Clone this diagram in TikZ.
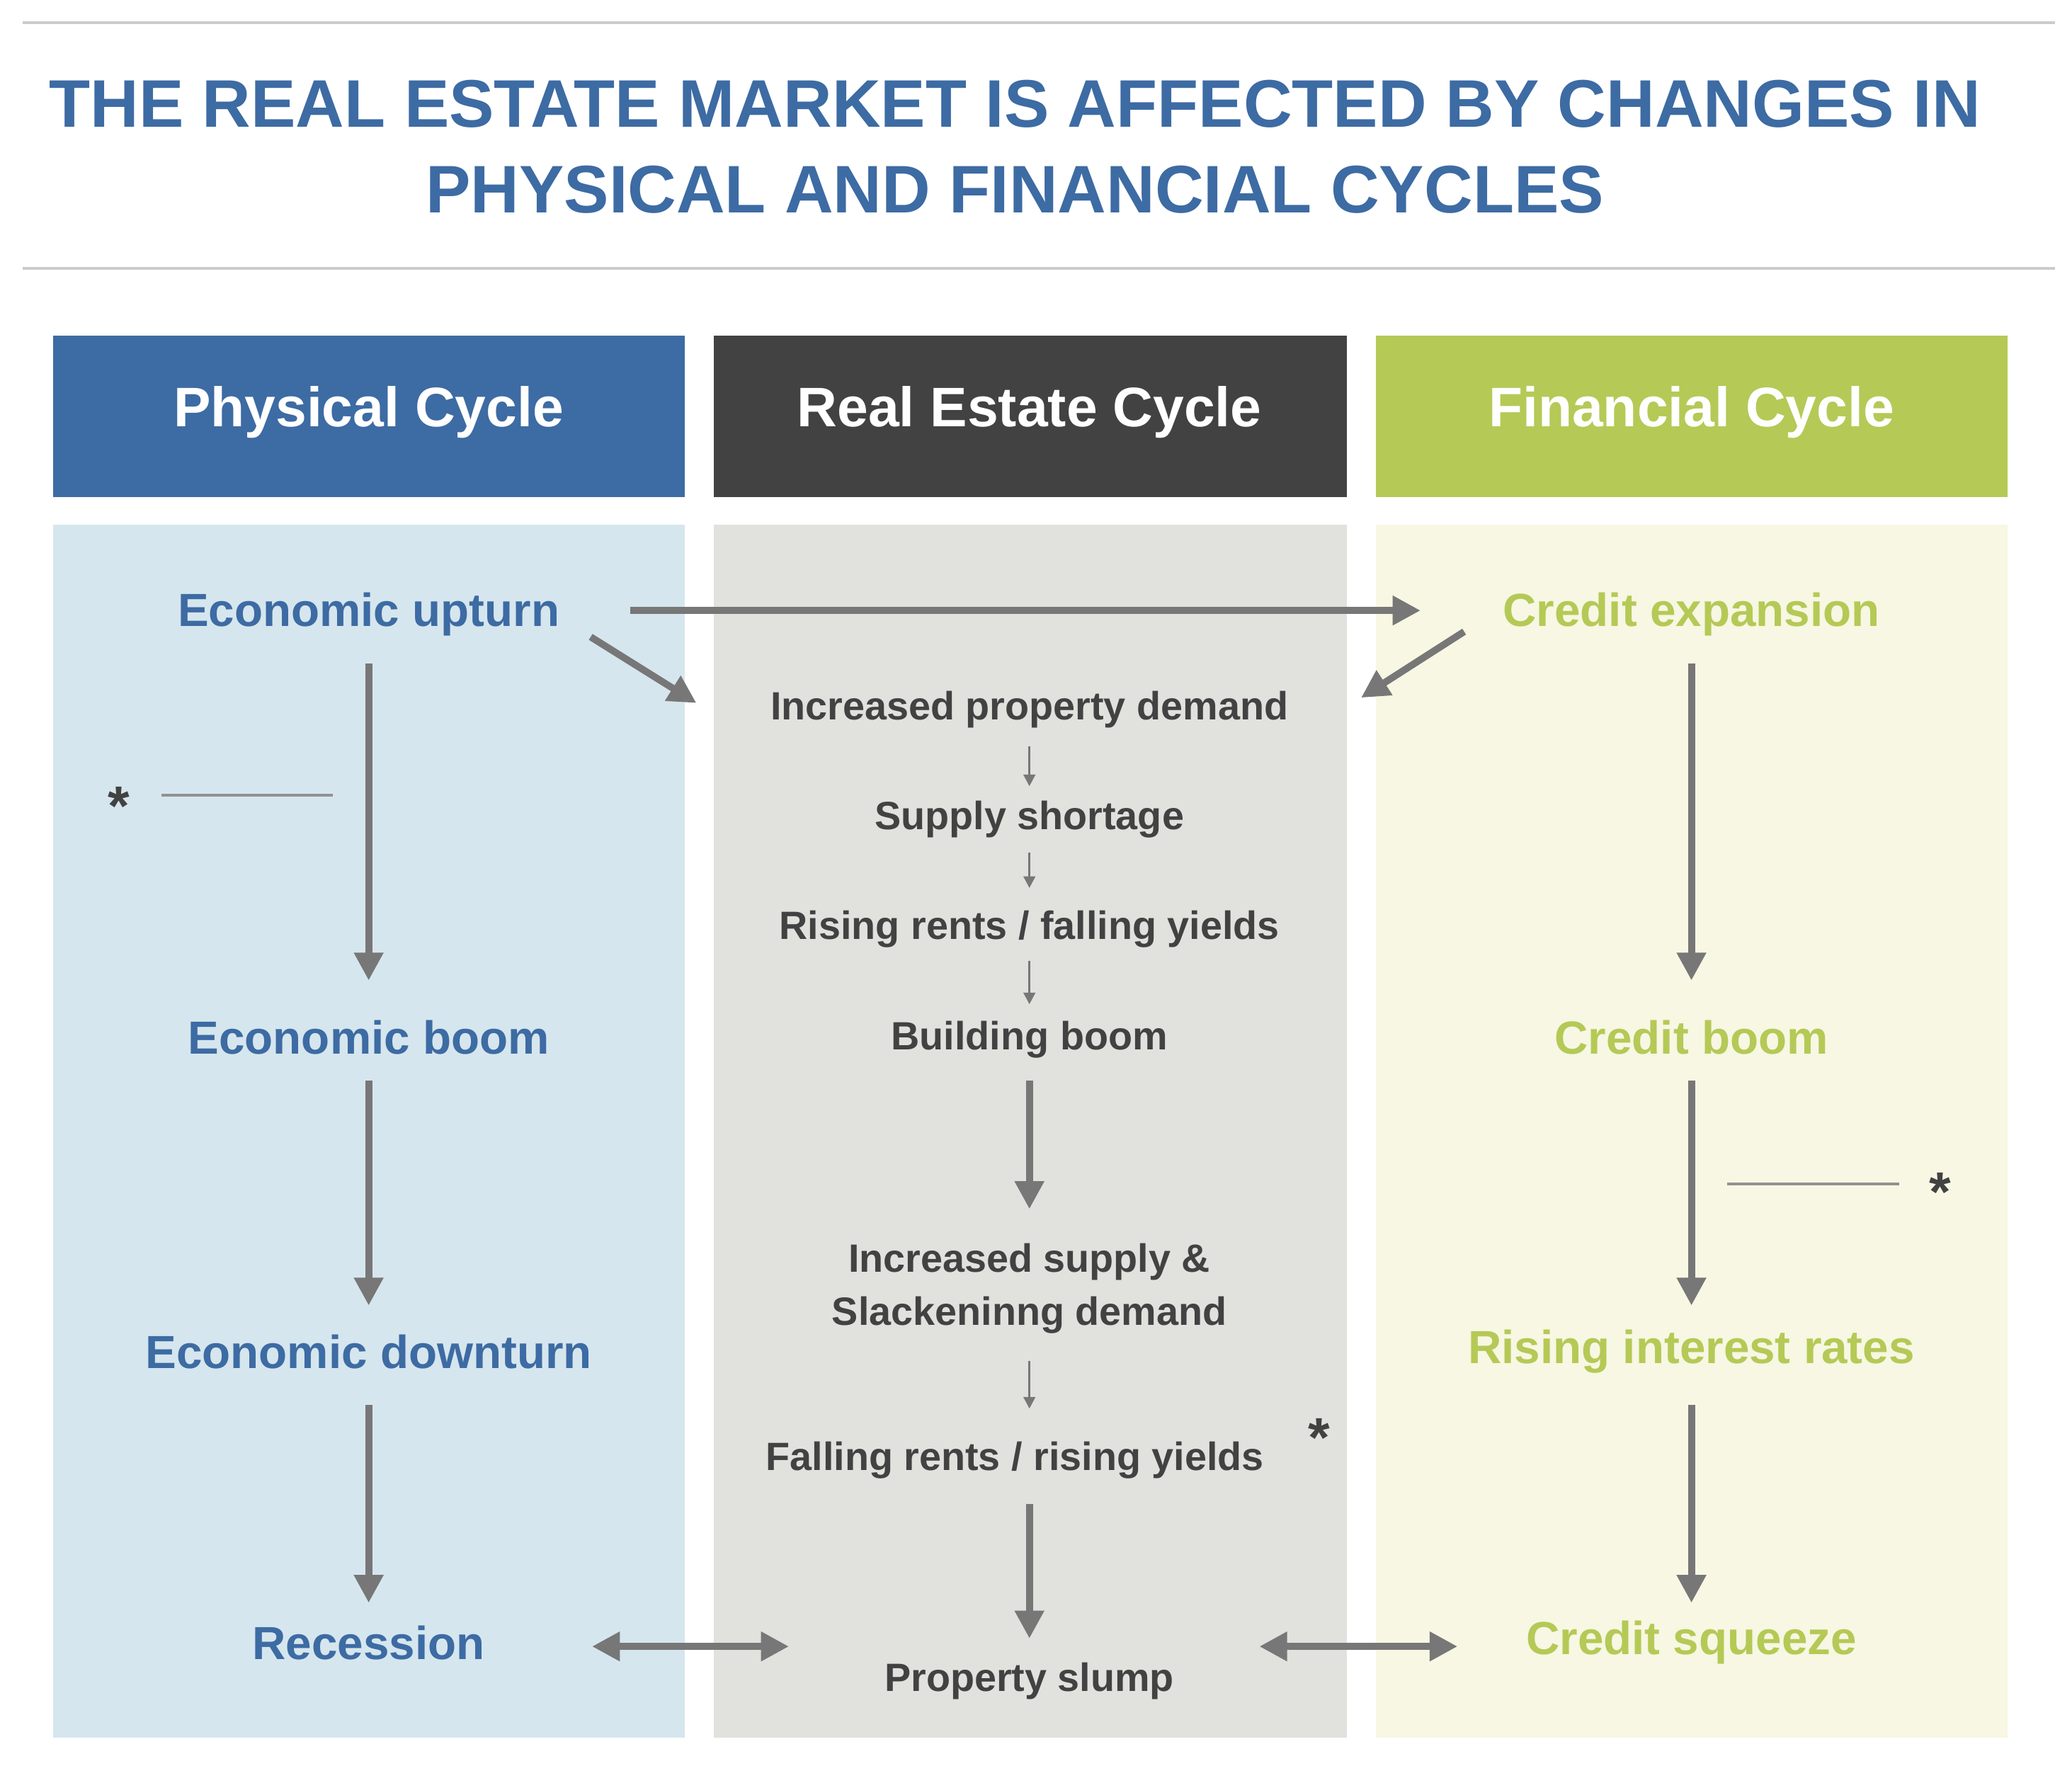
\documentclass[tikz,border=0pt]{standalone}
\usepackage{fontspec}
\setmainfont{Liberation Sans}
\usetikzlibrary{arrows.meta}
\definecolor{pblue}{HTML}{3D6BA3}
\definecolor{rdark}{HTML}{424242}
\definecolor{fgreen}{HTML}{B5C956}
\definecolor{bblue}{HTML}{D6E6EE}
\definecolor{bgray}{HTML}{E1E1DE}
\definecolor{bgreen}{HTML}{F7F7E3}
\definecolor{arr}{HTML}{777777}
\definecolor{rule}{HTML}{CCCCCC}
\tikzset{
 hdr/.style={font=\fontsize{24}{28}\selectfont\bfseries,text=white},
 lt/.style={font=\fontsize{20}{24}\selectfont\bfseries,text=pblue},
 rt/.style={font=\fontsize{20}{24}\selectfont\bfseries,text=fgreen},
 mt/.style={font=\fontsize{17}{23}\selectfont\bfseries,text=rdark,align=center},
 big/.style={draw=arr,line width=3pt,-{Triangle[length=12pt,width=12pt]}},
 dbl/.style={draw=arr,line width=3pt,{Triangle[length=12pt,width=12pt]}-{Triangle[length=12pt,width=12pt]}},
 small/.style={draw=arr,line width=1pt,-{Triangle[length=5pt,width=5pt]}},
 ast/.style={font=\fontsize{24}{24}\selectfont\bfseries,text=rdark}
}
\begin{document}
\begin{tikzpicture}[x=0.02cm,y=-0.02cm]
\useasboundingbox (0,0) rectangle (1568,1336);
\fill[white] (0,0) rectangle (1568,1336);
\draw[rule,line width=1.2pt] (17,17) -- (1555,17);
\draw[rule,line width=1.2pt] (17,203) -- (1555,203);
\node[font=\fontsize{29}{37}\selectfont\bfseries,text=pblue,align=center] (title) at (768,111) {THE REAL ESTATE MARKET IS AFFECTED BY CHANGES IN\\PHYSICAL AND FINANCIAL CYCLES};
% headers
\fill[pblue] (40,254) rectangle (518,376);
\fill[rdark] (540,254) rectangle (1019,376);
\fill[fgreen] (1041,254) rectangle (1519,376);
\node[hdr] (h1) at (279,312) {Physical Cycle};
\node[hdr] (h2) at (779,312) {Real Estate Cycle};
\node[hdr] (h3) at (1280,312) {Financial Cycle};
\fill[bblue] (40,397) rectangle (518,1315);
\fill[bgray] (540,397) rectangle (1019,1315);
\fill[bgreen] (1041,397) rectangle (1519,1315);
% left
\node[lt] (l1) at (279,465) {Economic upturn};
\node[lt] (l2) at (279,785) {Economic boom};
\node[lt] (l3) at (279,1023) {Economic downturn};
\node[lt] (l4) at (279,1243) {Recession};
% right
\node[rt] (r1) at (1280,465) {Credit expansion};
\node[rt] (r2) at (1280,785) {Credit boom};
\node[rt] (r3) at (1280,1023) {Rising interest rates};
\node[rt] (r4) at (1280,1243) {Credit squeeze};
% middle
\node[mt] (m1) at (779,537) {Increased property demand};
\node[mt] (m2) at (779,620) {Supply shortage};
\node[mt] (m3) at (779,703) {Rising rents / falling yields};
\node[mt] (m4) at (779,787) {Building boom};
\node[mt] (m5) at (779,975) {Increased supply \&\\Slackeninng demand};
\node[mt] (m6) at (768,1105) {Falling rents / rising yields};
\node[ast] (a3) at (998,1088) {*};
\node[mt] (m7) at (779,1272) {Property slump};
% arrows
\coordinate (l1s) at (279,502); \coordinate (l2n) at (279,742);
\coordinate (l2s) at (279,818); \coordinate (l3n) at (279,988);
\coordinate (l3s) at (279,1063); \coordinate (l4n) at (279,1213);
\draw[big] (l1s) -- (l2n);
\draw[big] (l2s) -- (l3n);
\draw[big] (l3s) -- (l4n);
\coordinate (r1s) at (1280,502); \coordinate (r2n) at (1280,742);
\coordinate (r2s) at (1280,818); \coordinate (r3n) at (1280,988);
\coordinate (r3s) at (1280,1063); \coordinate (r4n) at (1280,1213);
\draw[big] (r1s) -- (r2n);
\draw[big] (r2s) -- (r3n);
\draw[big] (r3s) -- (r4n);
\coordinate (m4s) at (779,818); \coordinate (m5n) at (779,915);
\coordinate (m6s) at (779,1138); \coordinate (m7n) at (779,1240);
\draw[big] (m4s) -- (m5n);
\draw[big] (m6s) -- (m7n);
\coordinate (s1a) at (779,565); \coordinate (s1b) at (779,595);
\coordinate (s2a) at (779,645); \coordinate (s2b) at (779,672);
\coordinate (s3a) at (779,727); \coordinate (s3b) at (779,760);
\coordinate (s4a) at (779,1030); \coordinate (s4b) at (779,1066);
\draw[small] (s1a) -- (s1b);
\draw[small] (s2a) -- (s2b);
\draw[small] (s3a) -- (s3b);
\draw[small] (s4a) -- (s4b);
\coordinate (h1a) at (477,462); \coordinate (h1b) at (1075,462);
\draw[big] (h1a) -- (h1b);
\coordinate (d1a) at (447,482); \coordinate (d1b) at (527,532);
\draw[big] (d1a) -- (d1b);
\coordinate (d2a) at (1108,478); \coordinate (d2b) at (1030,528);
\draw[big] (d2a) -- (d2b);
\coordinate (b1a) at (448,1246); \coordinate (b1b) at (597,1246);
\coordinate (b2a) at (953,1246); \coordinate (b2b) at (1103,1246);
\draw[dbl] (b1a) -- (b1b);
\draw[dbl] (b2a) -- (b2b);
% asterisk notes
\coordinate (n1a) at (122,602); \coordinate (n1b) at (252,602);
\draw[arr!80,line width=1.2pt] (n1a) -- (n1b);
\node[ast] (a1) at (90,610) {*};
\coordinate (n2a) at (1307,896); \coordinate (n2b) at (1437,896);
\draw[arr!80,line width=1.2pt] (n2a) -- (n2b);
\node[ast] (a2) at (1468,902) {*};
\end{tikzpicture}
\end{document}
